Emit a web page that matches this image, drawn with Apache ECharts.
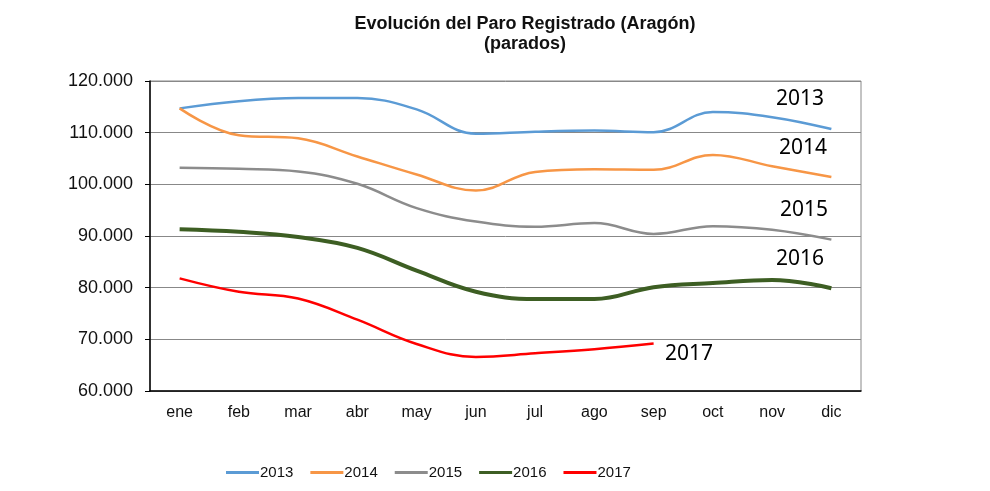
<!DOCTYPE html>
<html><head><meta charset="utf-8">
<script src="https://cdn.jsdelivr.net/npm/echarts@6/dist/echarts.min.js"></script>
<style>html,body{margin:0;padding:0;background:#fff}#c{width:990px;height:491px}</style>
</head><body><div id="c"></div>
<script>
const months = ['ene','feb','mar','abr','may','jun','jul','ago','sep','oct','nov','dic'];
const s2013 = [114700,116100,116700,116700,114500,109800,110200,110400,110100,114000,113000,110700];
const s2014 = [114700,109500,108900,105400,101900,98800,102400,102900,102800,105700,103500,101400];
const s2015 = [103200,103000,102500,100100,95400,92800,91800,92500,90400,91900,91200,89300];
const s2016 = [91300,90800,89800,87700,83300,79200,77800,77800,80100,80900,81500,79900];
const s2017 = [81800,79200,77900,73800,69100,66600,67300,68100,69200];
const yearNames = ['2013','2014','2015','2016','2017'];
const yTicks = ['60.000','70.000','80.000','90.000','100.000','110.000','120.000'];

const colors = ['#5B9BD5','#F79646','#8C8C8C','#3D5E23','#FF0000'];
const widths = [2.5,2.5,2.5,4,2.5];
const allData = [s2013,s2014,s2015,s2016,s2017];

const chart = echarts.init(document.getElementById('c'));
chart.setOption({
  animation:false,
  backgroundColor:'#fff',
  title:{
    text:'Evolución del Paro Registrado (Aragón)\n(parados)',
    left:520, top:9, textAlign:'center',
    textStyle:{fontFamily:'Liberation Sans', fontWeight:'bold', fontSize:18, lineHeight:20, color:'#111'}
  },
  grid:{left:150, right:129, top:81, bottom:100, show:true, borderColor:'#888', borderWidth:1},
  legend:{
    bottom:6, left:221, itemWidth:33, itemHeight:3, itemGap:17,
    icon:'rect',
    textStyle:{fontFamily:'Liberation Sans', fontSize:15, color:'#111', padding:[0,0,0,-4]},
    data:yearNames.map((n,i)=>({name:n, itemStyle:{color:colors[i]}}))
  },
  xAxis:{
    type:'category', data:months, boundaryGap:true,
    axisLine:{lineStyle:{color:'#000', width:1.5}},
    axisTick:{show:false},
    axisLabel:{fontFamily:'Liberation Sans', fontSize:16, color:'#111', margin:14}
  },
  yAxis:{
    type:'value', min:60000, max:120000, interval:10000,
    axisLine:{show:true, lineStyle:{color:'#000', width:1.5}},
    axisTick:{show:true, length:5, lineStyle:{color:'#000'}},
    splitLine:{lineStyle:{color:'#888', width:1}},
    axisLabel:{fontFamily:'Liberation Sans', fontSize:18, color:'#111', margin:17,
      formatter:(v)=>yTicks[Math.round((v-60000)/10000)]}
  },
  series: allData.map((d,i)=>({
    name:yearNames[i], type:'line', data:d, smooth:0.4, showSymbol:false, symbol:'none',
    lineStyle:{color:colors[i], width:widths[i]}, itemStyle:{color:colors[i]}
  })),
  graphic:[
    {type:'text', left:776, top:89, style:{text:'2013', font:'21px "Noto Sans"', fill:'#000'}},
    {type:'text', left:779, top:138, style:{text:'2014', font:'21px "Noto Sans"', fill:'#000'}},
    {type:'text', left:780, top:200, style:{text:'2015', font:'21px "Noto Sans"', fill:'#000'}},
    {type:'text', left:776, top:249, style:{text:'2016', font:'21px "Noto Sans"', fill:'#000'}},
    {type:'text', left:665, top:344, style:{text:'2017', font:'21px "Noto Sans"', fill:'#000'}}
  ]
});
</script></body></html>
